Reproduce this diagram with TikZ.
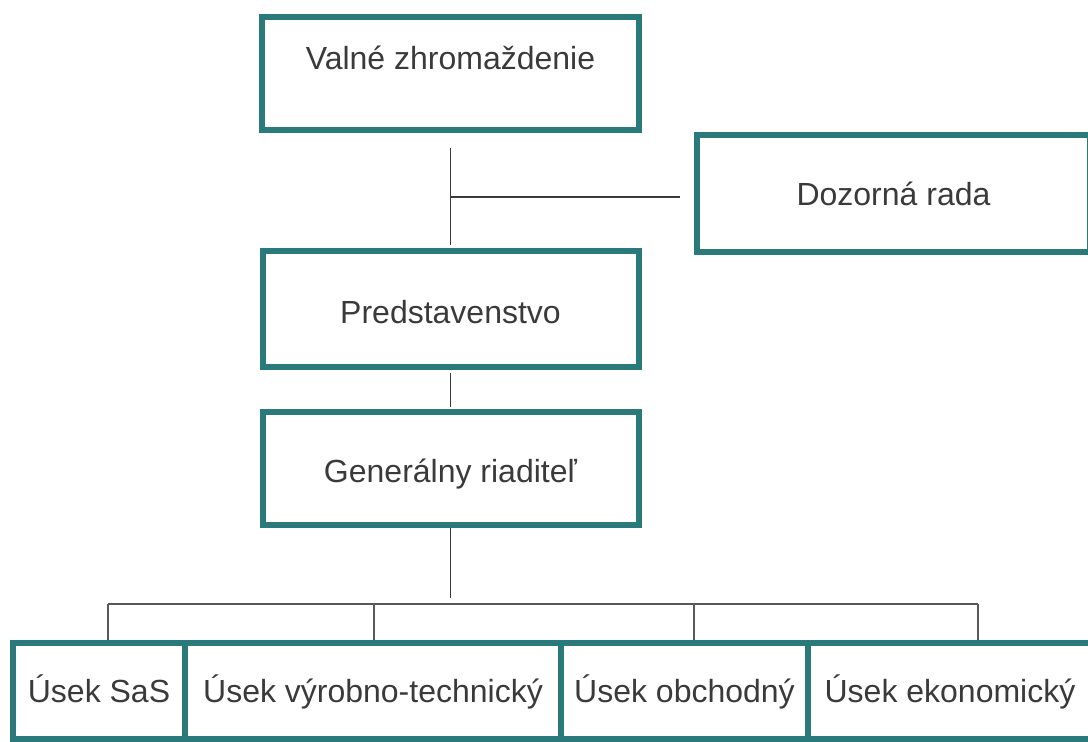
\documentclass[tikz,border=0pt]{standalone}
\usepackage{fontspec}
\setmainfont{Liberation Sans}
\definecolor{boxteal}{RGB}{42,122,124}
\definecolor{inkgray}{RGB}{58,58,58}

\begin{document}
\begin{tikzpicture}[x=1pt,y=-1pt,
		box/.style={rectangle,draw=boxteal,line width=6pt,text=inkgray,
			font=\fontsize{32}{38}\selectfont,inner sep=0pt,
			text height=23pt,text depth=0pt},
		link/.style={draw=inkgray,line width=1.6pt},
		bus/.style={draw=inkgray!85,line width=1.3pt}]
	\useasboundingbox (0,0) rectangle (1088,742);
	\clip (0,0) rectangle (1088,742);
	% upper part of the chart
	\node[box,minimum width=377,minimum height=113,text depth=32pt] (valne) at (450.5,73.5) {Valné zhromaždenie};
	\node[box,minimum width=393,minimum height=117] (dozor) at (893.5,193.5) {Dozorná rada};
	\node[box,minimum width=376,minimum height=116,text height=29pt] (predst) at (450.5,309) {Predstavenstvo};
	\node[box,minimum width=376,minimum height=113,text height=28pt] (gen) at (450.5,468.5) {Generálny riaditeľ};
	% divisions
	\foreach \nm/\cx/\w/\txt in {sas/99/172/Úsek SaS,vyr/373/376/Úsek výrobno-technický,obch/684.5/247/Úsek obchodný,ekon/950/284/Úsek ekonomický}
	{\node[box,minimum width=\w,minimum height=96] (\nm) at (\cx,691) {\txt};}
	\coordinate (j1) at (450.5,197);
	\draw[link,shorten <=15pt,shorten >=3pt] (valne.south) -- (predst.north);
	\draw[link,shorten >=14pt] (j1) -- (j1 -| dozor.west);
	\draw[link,shorten <=3pt,shorten >=2pt] (predst.south) -- (gen.north);
	\coordinate (b1) at (108,604);
	\coordinate (b2) at (374,604);
	\coordinate (b3) at (694,604);
	\coordinate (b4) at (978,604);
	\draw[link,shorten >=6pt] (gen.south) -- (gen.south |- b1);
	\draw[bus] (b1) -- (b4);
	\draw[bus] (b1) -- (b1 |- sas.north);
	\draw[bus] (b2) -- (b2 |- vyr.north);
	\draw[bus] (b3) -- (b3 |- obch.north);
	\draw[bus] (b4) -- (b4 |- ekon.north);
\end{tikzpicture}
\end{document}
